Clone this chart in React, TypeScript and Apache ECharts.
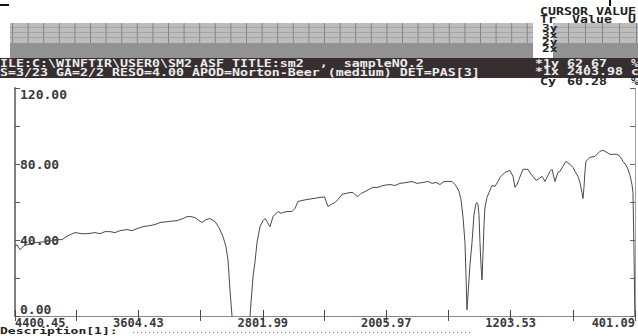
import React, { useEffect, useRef } from 'react';
import * as echarts from 'echarts';

// ---- spectrum data (wavenumber cm-1, %T) ----
const wavenumbers = [
  4400.45, 4387.5, 4368.2, 4342.4, 4323.0, 4271.4, 4206.9, 4142.4, 4097.3, 4058.6,
  4013.4, 3968.3, 3936.0, 3884.4, 3852.2, 3819.9, 3787.7, 3755.4, 3723.2, 3678.0,
  3645.7, 3613.5, 3574.8, 3529.6, 3497.4, 3465.1, 3413.5, 3355.4, 3316.7, 3290.9,
  3265.1, 3239.3, 3213.5, 3194.2, 3168.4, 3142.6, 3110.3, 3084.5, 3058.7, 3039.4,
  3026.5, 3013.6, 3000.6, 2974.9, 2942.6, 2910.4, 2884.6, 2865.2, 2852.3, 2839.4,
  2820.1, 2800.7, 2787.8, 2774.9, 2755.5, 2736.2, 2703.9, 2684.6, 2671.7, 2645.9,
  2613.6, 2594.3, 2574.9, 2549.1, 2516.9, 2478.2, 2433.0, 2403.98, 2381.4, 2362.1,
  2336.3, 2316.9, 2291.1, 2265.3, 2239.5, 2220.2, 2200.8, 2187.9, 2168.6, 2142.8,
  2117.0, 2091.2, 2058.9, 2026.7, 1981.5, 1949.3, 1917.0, 1871.9, 1839.6, 1807.4,
  1768.7, 1736.4, 1710.6, 1684.8, 1659.0, 1633.2, 1613.9, 1581.6, 1562.3, 1549.4,
  1536.5, 1523.6, 1510.7, 1497.8, 1491.3, 1484.9, 1478.4, 1465.5, 1452.6, 1439.7,
  1426.8, 1420.4, 1413.9, 1407.5, 1401.0, 1394.6, 1388.1, 1381.7, 1375.2, 1368.8,
  1355.9, 1343.0, 1323.6, 1304.3, 1284.9, 1272.0, 1239.8, 1207.5, 1188.2, 1175.3,
  1162.4, 1149.5, 1123.7, 1091.4, 1072.1, 1059.2, 1039.8, 1026.9, 1001.1, 981.8,
  962.4, 949.5, 936.6, 917.3, 897.9, 885.0, 865.7, 846.3, 820.5, 801.2,
  788.3, 768.9, 756.0, 743.1, 736.7, 730.2, 723.8, 717.3, 691.5, 659.3,
  627.0, 607.7, 594.8, 562.5, 517.4, 498.0, 478.7, 459.3, 446.4, 433.5,
  420.6, 414.1, 407.7, 401.09,
];
const transmittance = [
  36.5, 37.5, 34.9, 37.0, 37.5, 38.6, 39.1, 40.2, 40.2, 42.3,
  43.9, 43.3, 43.3, 43.9, 43.3, 44.4, 44.4, 43.9, 44.9, 45.5,
  44.9, 46.0, 47.0, 47.6, 48.1, 49.2, 49.7, 50.2, 51.3, 52.3,
  52.3, 51.8, 50.2, 49.2, 50.7, 51.3, 49.7, 46.5, 41.8, 36.5,
  29.6, 13.7, 0, -15, -18, -15, 0, 20.6, 28.5, 38.6,
  47.0, 50.2, 51.3, 49.7, 47.0, 52.3, 55.0, 54.0, 54.5, 55.0,
  55.0, 56.6, 60.3, 60.8, 61.3, 61.8, 62.4, 62.7, 57.6, 58.7,
  59.7, 61.3, 64.0, 64.5, 65.0, 65.0, 63.4, 62.9, 64.5, 65.5,
  66.6, 67.7, 67.7, 68.7, 69.2, 68.7, 69.8, 70.3, 70.8, 69.8,
  70.3, 70.8, 69.8, 70.3, 69.2, 70.8, 70.8, 70.8, 69.2, 67.7,
  65.5, 61.3, 52.3, 38.6, 21.7, 3.2, 11.1, 27.0, 38.6, 53.4,
  59.2, 59.7, 58.7, 53.4, 38.6, 27.0, 19.0, 32.2, 48.1, 57.1,
  62.4, 65.0, 68.7, 68.2, 70.8, 72.9, 75.6, 76.6, 73.5, 67.7,
  69.2, 71.9, 77.2, 77.2, 74.5, 73.5, 71.4, 71.9, 73.5, 70.8,
  74.0, 76.1, 77.2, 70.8, 75.6, 76.1, 78.8, 81.4, 79.8, 78.2,
  76.1, 73.5, 70.3, 65.0, 61.8, 67.7, 76.1, 81.4, 83.5, 84.0,
  86.7, 87.2, 86.7, 85.1, 85.1, 84.0, 81.4, 79.3, 77.2, 74.0,
  69.2, 65.0, 34.9, -5,
];

// ---- axis ticks / labels ----
const xMin = 401.09;
const xMax = 4400.45;
const xLabelValues = [401.09, 1203.53, 2005.97, 2801.99, 3604.43, 4400.45];
const xTickValues = [401.09, 802.31, 1203.53, 1604.75, 2005.97, 2403.98, 2801.99, 3203.21, 3604.43, 4002.44, 4400.45];
const yLabelValues = [0, 40, 80, 120];
const yTickValues = [0, 20, 40, 60, 80, 100, 120];

// ---- header texts ----
const headerLine1 = 'ILE:C:\\WINFTIR\\USER0\\SM2.ASF TITLE:sm2  ,  sampleNO.2';
const headerLine2 = 'S=3/23 GA=2/2 RESO=4.00 APOD=Norton-Beer (medium) DET=PAS[3]';
const cursorTitle = 'CURSOR VALUE';
const cursorHead = 'Tr  Value  U';
const traceNames = ['3y', '3x', '2y', '2x'];
const cursorRowNames = ['*1y', '*1x', 'Cy'];
const cursorRowValues = ['62.67', '2403.98', '60.28'];
const cursorRowUnits = ['%', 'c', '%'];
const descriptionText = 'Description[1]:';

const MONO = '"DejaVu Sans Mono", "Liberation Mono", monospace';

function txt(text: string, x: number, y: number, fill: string, size = 10, sx = 1.33) {
  return {
    type: 'text',
    x,
    y,
    scaleX: sx,
    z: 20,
    silent: true,
    style: { text, fill, font: `bold ${size}px ${MONO}`, verticalAlign: 'middle', align: 'left' },
  };
}

function rect(x: number, y: number, w: number, h: number, fill: string, z = 5) {
  return { type: 'rect', z, silent: true, shape: { x, y, width: w, height: h }, style: { fill } };
}

function line(x1: number, y1: number, x2: number, y2: number, stroke: string, lineWidth = 1, lineDash?: number[]) {
  return {
    type: 'line', z: 6, silent: true,
    shape: { x1, y1, x2, y2 },
    style: { stroke, lineWidth, lineDash },
  };
}

function buildGraphic() {
  const g: any[] = [];
  // header bands
  g.push(rect(10, 23, 523, 20, '#bdbdbd'));
  g.push(rect(553, 23, 85, 20, '#bdbdbd'));
  g.push(rect(10, 43, 523, 15, '#929292'));
  g.push(rect(553, 43, 85, 15, '#929292'));
  g.push(rect(0, 58, 638, 20, '#372f2f'));
  for (const yy of [27.5, 32.5, 37.5]) {
    g.push(line(10, yy, 533, yy, '#a4a4a4'));
    g.push(line(553, yy, 638, yy, '#a4a4a4'));
  }
  for (let xx = 12.5; xx < 533; xx += 15.6) g.push(line(xx, 23, xx, 43, '#858585'));
  for (let xx = 568.5; xx < 638; xx += 17) g.push(line(xx, 23, xx, 43, '#858585'));
  // black marks
  g.push(rect(0, 4, 9, 2, '#111'));
  g.push(rect(609, 0, 2, 6, '#111'));
  // header text lines
  g.push(txt(headerLine1, 0, 63.5, '#ececec'));
  g.push(txt(headerLine2, 0, 72.5, '#ececec'));
  // cursor panel
  g.push(txt(cursorTitle, 540, 12, '#222'));
  g.push(txt(cursorHead, 540, 20, '#222'));
  traceNames.forEach((t, i) => g.push(txt(t, 542, 28 + i * 7, '#222', 8.5, 1.5)));
  const rowY = [64, 72, 82];
  cursorRowNames.forEach((n, i) => {
    const col = i < 2 ? '#ececec' : '#222';
    g.push(txt(n, i < 2 ? 535 : 540, rowY[i], col));
    g.push(txt(cursorRowValues[i], 567, rowY[i], col));
    g.push(txt(cursorRowUnits[i], 631, rowY[i], col));
  });
  // description line
  g.push(txt(descriptionText, 0, 331, '#222', 9, 1.45));
  g.push(line(133, 332.5, 470, 332.5, '#777', 1, [1, 3]));
  return g;
}

export default function App() {
  const ref = useRef<HTMLDivElement>(null);
  useEffect(() => {
    if (!ref.current) return;
    const chart = echarts.init(ref.current, null, { renderer: 'svg' });
    const data = wavenumbers.map((w, i) => [w, transmittance[i]]);
    const labelFont = { fontFamily: MONO, fontWeight: 'bold' as const, color: '#3a3a3a' };
    chart.setOption({
      animation: false,
      backgroundColor: '#ffffff',
      grid: { left: 15, right: 3, top: 88, bottom: 20, containLabel: false, outerBoundsMode: 'none' },
      xAxis: [
        {
          type: 'value', position: 'bottom', inverse: true, min: xMin, max: xMax,
          splitLine: { show: false },
          axisLine: { show: true, lineStyle: { color: '#555', width: 1 } },
          axisTick: { show: true, inside: true, length: 6, customValues: xTickValues, lineStyle: { color: '#444', width: 1 } },
          axisLabel: {
            ...labelFont, fontSize: 12, lineHeight: 11, margin: 1, customValues: xLabelValues,
            formatter: (v: number) => v.toFixed(2),
            alignMinLabel: 'right', alignMaxLabel: 'left',
          },
        },
        {
          type: 'value', position: 'top', inverse: true, min: xMin, max: xMax,
          splitLine: { show: false },
          axisLine: { show: true, lineStyle: { color: '#888', width: 1 } },
          axisTick: { show: true, inside: true, length: 5, customValues: xTickValues, lineStyle: { color: '#555', width: 1 } },
          axisLabel: { show: false },
        },
      ],
      yAxis: [
        {
          type: 'value', position: 'left', min: 0, max: 120, interval: 20,
          splitLine: { show: false },
          axisLine: { show: true, lineStyle: { color: '#7f7f7f', width: 2 } },
          axisTick: { show: true, inside: true, length: 5, customValues: yTickValues, lineStyle: { color: '#555', width: 1 } },
          axisLabel: {
            ...labelFont, fontSize: 13, inside: true, margin: 5, customValues: yLabelValues,
            formatter: (v: number) => v.toFixed(2),
            verticalAlignMinLabel: 'bottom', verticalAlignMaxLabel: 'top',
          },
        },
        {
          type: 'value', position: 'right', min: 0, max: 120, interval: 20,
          splitLine: { show: false },
          axisLine: { show: true, lineStyle: { color: '#a0a0a0', width: 1 } },
          axisTick: { show: true, inside: true, length: 5, customValues: yTickValues, lineStyle: { color: '#666', width: 1 } },
          axisLabel: { show: false },
        },
      ],
      series: [
        {
          type: 'line',
          xAxisIndex: 0,
          yAxisIndex: 0,
          data,
          symbol: 'none',
          clip: true,
          lineStyle: { color: '#4a4a4a', width: 1 },
          z: 3,
        },
      ],
      graphic: buildGraphic(),
    });
    return () => chart.dispose();
  }, []);
  return <div ref={ref} style={{ position: 'fixed', left: 0, top: 0, width: 638, height: 336 }} />;
}
